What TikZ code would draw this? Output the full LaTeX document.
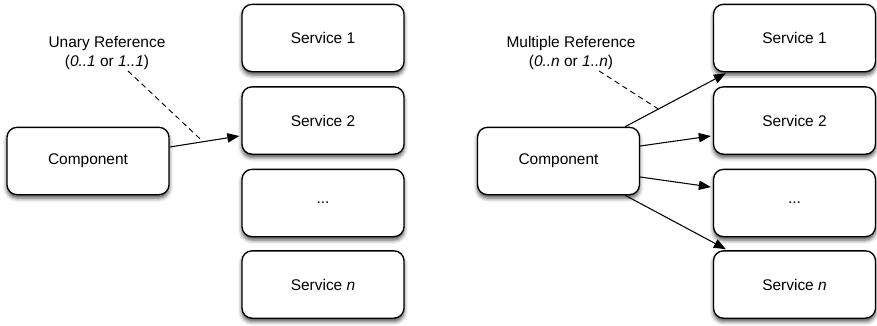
\documentclass[tikz,border=0pt]{standalone}
\usepackage{fontspec}
\setmainfont{Liberation Sans}
\usetikzlibrary{calc,arrows.meta,shadows.blur}
\begin{document}
\begin{tikzpicture}[x=0.75pt,y=-0.75pt,
  box/.style={draw=black,line width=1pt,fill=white,rounded corners=7.5pt,
    minimum width=121.5pt,minimum height=50.5pt,inner sep=0pt,
    font=\fontsize{11.6}{14}\selectfont,
    blur shadow={shadow xshift=0pt,shadow yshift=-2.5pt,shadow blur radius=3pt,shadow opacity=70}},
  lbl/.style={align=center,font=\fontsize{11.6}{14.2}\selectfont,inner sep=0pt},
  conn/.style={line width=0.8pt,-{Triangle[length=9pt,width=7pt]}},
  hint/.style={line width=0.7pt,dash pattern=on 4pt off 3pt}]
\useasboundingbox (0,0) rectangle (877,325);
% left part
\node[box] (s1L) at (323,38) {Service 1};
\node[box] (s2L) at (323,120.5) {Service 2};
\node[box] (s3L) at (323,203) {...};
\node[box] (snL) at (323,284.5) {Service \textit{n}};
\node[box] (cL) at (88,161) {Component};
\node[lbl] (tL) at (107,53) {Unary Reference\\(\textit{0..1} or \textit{1..1})};
\draw[conn] ($(cL.east)+(0,-14)$) -- coordinate[pos=0.48] (mL) ($(s2L.west)+(-2,15.5)$);
\coordinate (dL) at ($(tL.south)+(21,1)$);
\draw[hint] (dL) -- (mL);
% right part
\node[box] (s1R) at (794.5,38) {Service 1};
\node[box] (s2R) at (794.5,120.5) {Service 2};
\node[box] (s3R) at (794.5,203) {...};
\node[box] (snR) at (794.5,284.5) {Service \textit{n}};
\node[box] (cR) at (558.5,161) {Component};
\node[lbl] (tR) at (571,53) {Multiple Reference\\(\textit{0..n} or \textit{1..n})};
\draw[conn] ($(cR.north east)+(-15,0)$) -- coordinate[pos=0.33] (mR) ($(s1R.south west)+(13,1)$);
\draw[conn] ($(cR.east)+(0,-15)$) -- ($(s2R.west)+(-2,15.5)$);
\draw[conn] ($(cR.east)+(0,16)$) -- ($(s3R.west)+(-2,-16)$);
\draw[conn] ($(cR.south east)+(-15,0)$) -- ($(snR.north west)+(13,-1)$);
\coordinate (dR) at ($(tR.south)+(28,1)$);
\draw[hint] (dR) -- (mR);
\end{tikzpicture}
\end{document}
